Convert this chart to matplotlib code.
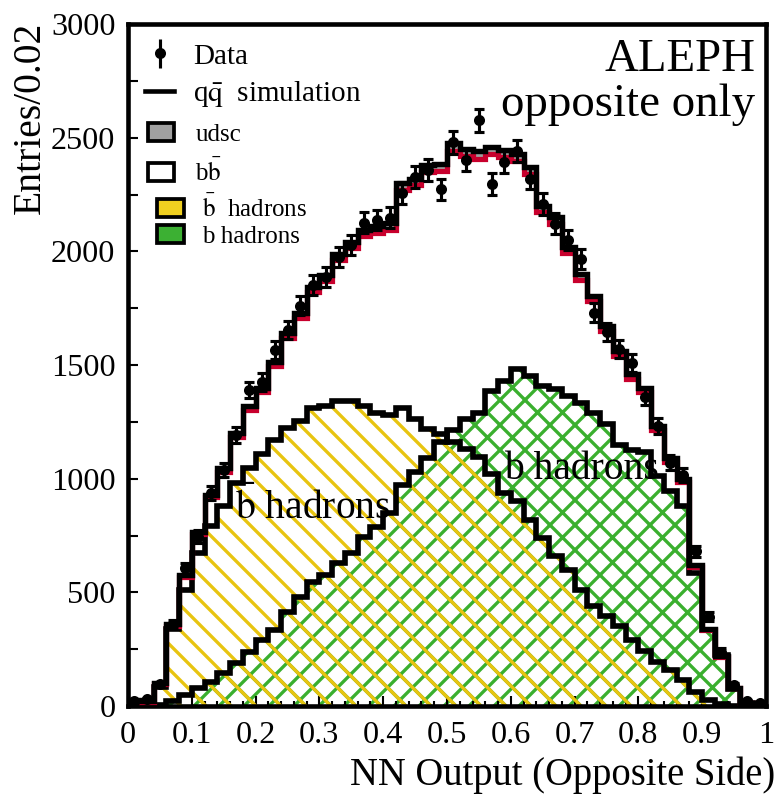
import numpy as np
import matplotlib.pyplot as plt
from matplotlib.patches import Patch
from matplotlib.lines import Line2D

plt.rcParams['font.family'] = ['Liberation Serif', 'DejaVu Serif']
plt.rcParams['mathtext.fontset'] = 'stix'
plt.rcParams['hatch.linewidth'] = 1.6

# 50 bins of width 0.02 on the NN output
edges = np.linspace(0, 1, 51)
centers = 0.5 * (edges[:-1] + edges[1:])

data = [20, 30, 95, 360, 605, 745, 937, 1038, 1192, 1390,
        1425, 1566, 1654, 1760, 1852, 1887, 1975, 2028, 2125, 2138,
        2147, 2257, 2327, 2358, 2272, 2480, 2402, 2576, 2298, 2394,
        2440, 2320, 2208, 2122, 2050, 1966, 1729, 1645, 1570, 1509,
        1360, 1230, 1069, 1016, 680, 393, 239, 92, 20, 12]
data_err = [5, 5, 10, 19, 25, 27, 31, 32, 35, 37,
            38, 40, 41, 42, 43, 43, 44, 45, 46, 46,
            46, 48, 48, 49, 48, 50, 49, 51, 48, 49,
            49, 48, 47, 46, 45, 44, 42, 41, 40, 39,
            37, 35, 33, 32, 26, 20, 15, 10, 5, 4]

# total q qbar simulation
sim_total = [25, 20, 100, 360, 575, 765, 930, 1045, 1200, 1320,
             1400, 1515, 1640, 1730, 1845, 1895, 1990, 2040, 2095, 2110,
             2125, 2300, 2320, 2380, 2385, 2475, 2450, 2440, 2460, 2445,
             2430, 2370, 2200, 2150, 2020, 1900, 1805, 1670, 1560, 1460,
             1400, 1230, 1090, 1000, 620, 340, 220, 80, 15, 5]
udsc = [3, 3, 3, 6, 8, 10, 12, 14, 16, 18,
        19, 20, 22, 23, 24, 25, 26, 27, 28, 28,
        29, 30, 30, 31, 31, 32, 32, 32, 32, 32,
        32, 31, 29, 28, 27, 25, 24, 22, 21, 20,
        19, 17, 15, 14, 9, 5, 3, 1, 0, 0]
bbar_had = [0, 0, 85, 340, 510, 675, 790, 880, 980, 1045,
            1110, 1170, 1225, 1255, 1310, 1320, 1342, 1340, 1320, 1288,
            1280, 1312, 1262, 1218, 1195, 1160, 1130, 1097, 1020, 935,
            900, 820, 740, 660, 600, 510, 440, 395, 350, 290,
            240, 195, 158, 114, 63, 26, 8, 2, 0, 0]
b_had = [0, 0, 3, 20, 50, 79, 107, 145, 189, 239,
         290, 334, 415, 481, 547, 576, 628, 672, 745, 789,
         849, 972, 1031, 1091, 1160, 1215, 1262, 1290, 1385, 1428,
         1482, 1450, 1408, 1395, 1365, 1335, 1290, 1240, 1150, 1125,
         1117, 1010, 945, 880, 585, 335, 225, 75, 12, 3]

sim_total = np.array(sim_total)
bb_part = sim_total - np.array(udsc)

yellow = '#e8c410'
green = '#3aaf2e'
red = '#c8002d'

fig = plt.figure(figsize=(778 / 150, 797 / 150), dpi=150)
ax = fig.add_axes([128 / 778, 1 - 706 / 797, 638 / 778, 682 / 797])

# b hadrons (cross hatched) and anti-b hadrons (single hatched)
ax.stairs(b_had, edges, fill=True, facecolor='none', edgecolor=green,
          hatch='xx', linewidth=0, zorder=1)
ax.stairs(bbar_had, edges, fill=True, facecolor='none', edgecolor=yellow,
          hatch='\\\\', linewidth=0, zorder=2)
ax.stairs(b_had, edges, color='black', linewidth=2.7, zorder=3)
ax.stairs(bbar_had, edges, color='black', linewidth=2.7, zorder=3)

# stacked simulation: bb (red outline) + udsc (grey)
ax.stairs(sim_total, edges, baseline=bb_part, fill=True, color='#a0a0a0', zorder=4)
ax.stairs(bb_part, edges, color=red, linewidth=2.5, zorder=4)
ax.stairs(sim_total, edges, color='black', linewidth=2.6, zorder=5)

ax.errorbar(centers, data, yerr=data_err, fmt='o', color='black', ms=4.3,
            elinewidth=1.5, capsize=2.6, capthick=1.5, zorder=6)

ax.set_xlim(0, 1)
ax.set_ylim(0, 3000)
ax.set_xticks(np.arange(0, 1.01, 0.1))
ax.set_xticklabels(['0', '0.1', '0.2', '0.3', '0.4', '0.5', '0.6', '0.7', '0.8', '0.9', '1'])
ax.set_xticks(np.arange(0, 1.001, 0.02), minor=True)
ax.set_yticks(np.arange(0, 3001, 500))
ax.set_yticks(np.arange(0, 3001, 250), minor=True)
ax.tick_params(axis='both', which='both', direction='in', top=False, right=False,
               labelsize=15.5, width=1.0)
ax.tick_params(axis='x', which='major', length=5, pad=7)
ax.tick_params(axis='x', which='minor', length=2.5)
ax.tick_params(axis='y', which='major', length=5, pad=6)
ax.tick_params(axis='y', which='minor', length=5)
for s in ax.spines.values():
    s.set_linewidth(2.2)

fig.text(0.996, 1 - 775 / 797, 'NN Output (Opposite Side)', ha='right', va='center', fontsize=18.5)
fig.text(30 / 778, 1 - 22 / 797, 'Entries/0.02', rotation=90, ha='center', va='top', fontsize=19)

ax.text(0.983, 0.947, 'ALEPH', transform=ax.transAxes, ha='right', va='center', fontsize=22.5)
ax.text(0.983, 0.882, 'opposite only', transform=ax.transAxes, ha='right', va='center', fontsize=22.5)
ax.text(0.168, 870, r'$\bar{\rm b}$ hadrons', ha='left', va='center', fontsize=19, zorder=7)
ax.text(0.59, 1040, 'b hadrons', ha='left', va='center', fontsize=19, zorder=7)

# legends
h_data = ax.errorbar([], [], yerr=[], fmt='o', color='black', ms=4.3,
                     elinewidth=1.5, capsize=0)
h_sim = Line2D([], [], color='black', linewidth=2.2)
leg1 = ax.legend([h_data, h_sim], ['Data', r'q$\bar{\rm q}$  simulation'],
                 loc='upper left', bbox_to_anchor=(0.027, 0.972), frameon=False,
                 fontsize=14, handlelength=1.0, handletextpad=0.65,
                 labelspacing=0.32, borderpad=0, borderaxespad=0)
ax.add_artist(leg1)
h_udsc = Patch(facecolor='#a0a0a0', edgecolor='black', linewidth=1.8)
h_bb = Patch(facecolor='white', edgecolor='black', linewidth=1.8)
leg2 = ax.legend([h_udsc, h_bb], ['udsc', r'b$\bar{\rm b}$'],
                 loc='upper left', bbox_to_anchor=(0.031, 0.855), frameon=False,
                 fontsize=12, handlelength=1.05, handleheight=0.75, handletextpad=0.85,
                 labelspacing=0.5, borderpad=0, borderaxespad=0)
ax.add_artist(leg2)
h_bbar = Patch(facecolor='#f0d020', edgecolor='black', linewidth=1.8)
h_b = Patch(facecolor='#3cb033', edgecolor='black', linewidth=1.8)
ax.legend([h_bbar, h_b], [r'$\bar{\rm b}$  hadrons', 'b hadrons'],
          loc='upper left', bbox_to_anchor=(0.046, 0.75), frameon=False,
          fontsize=12, handlelength=1.05, handleheight=0.75, handletextpad=0.72,
          labelspacing=0.12, borderpad=0, borderaxespad=0)

fig.savefig('out.png', dpi=150)
